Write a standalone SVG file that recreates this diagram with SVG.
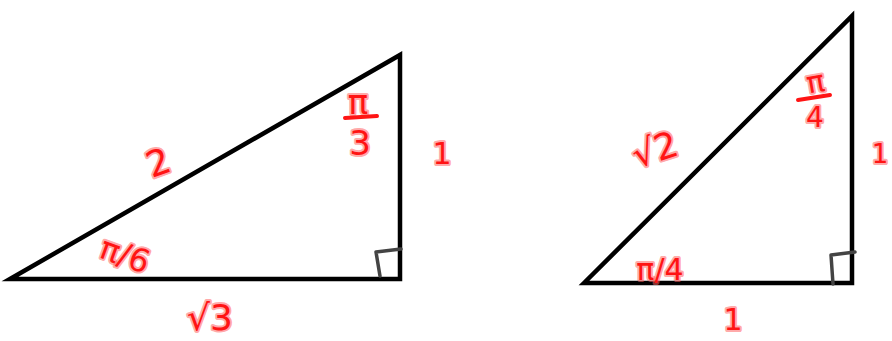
<svg xmlns="http://www.w3.org/2000/svg" width="892" height="341" viewBox="0 0 892 341">
<style>
.tri{fill:none;stroke:#000;stroke-width:4.5;stroke-linejoin:miter}
.ra{fill:none;stroke:#444;stroke-width:3.5;stroke-linecap:round;stroke-linejoin:round}
.lbl{font-family:"DejaVu Sans","Liberation Sans",sans-serif;fill:#ff1414;stroke:#ff6060;stroke-opacity:0.55;stroke-width:4;stroke-linejoin:round;paint-order:stroke;text-anchor:middle}
.bar{stroke:#ff1414;stroke-width:4;stroke-linecap:round}
</style>
<rect width="892" height="341" fill="#fff"/>
<g id="triangle-left">
<polygon class="tri" points="10,279 400,55 400,279"/>
<path class="ra" d="M380,276 L376,252 L401,249"/>
</g>
<g id="triangle-right">
<polygon class="tri" points="584,283 852,16 852,283"/>
<path class="ra" d="M833,284 L831,255 L855,252"/>
</g>
<g id="labels-left">
<text class="lbl" x="158" y="175" font-size="36" transform="rotate(-20 158 162)">2</text>
<text class="lbl" x="358" y="114" font-size="34">π</text>
<line class="bar" x1="345" y1="118" x2="377" y2="116"/>
<text class="lbl" x="360" y="155" font-size="34">3</text>
<text class="lbl" x="442" y="164" font-size="30">1</text>
<text class="lbl" x="125" y="266" font-size="32" transform="rotate(20 125 255)">π/6</text>
<text class="lbl" x="210" y="330" font-size="36">√3</text>
</g>
<g id="labels-right">
<text class="lbl" x="655" y="162" font-size="36" transform="rotate(-18 655 150)">√2</text>
<text class="lbl" x="660" y="280" font-size="30">π/4</text>
<text class="lbl" x="815" y="92" font-size="30" transform="rotate(-10 815 80)">π</text>
<line class="bar" x1="798" y1="100" x2="830" y2="95"/>
<text class="lbl" x="815" y="127" font-size="28">4</text>
<text class="lbl" x="733" y="330" font-size="30">1</text>
<text class="lbl" x="880" y="163" font-size="26">1</text>
</g>
</svg>
